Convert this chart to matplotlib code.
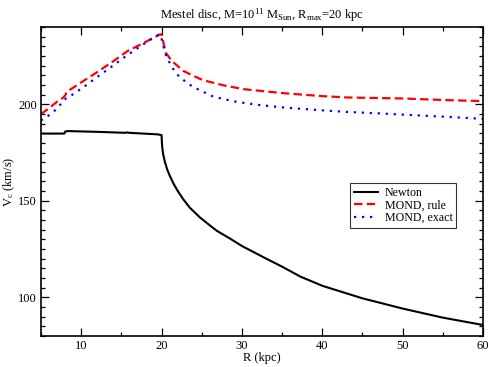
import matplotlib
matplotlib.use('Agg')
import matplotlib.pyplot as plt
from matplotlib.ticker import MultipleLocator

plt.rcParams['font.family'] = ['Liberation Serif', 'DejaVu Serif']
plt.rcParams['mathtext.fontset'] = 'custom'
plt.rcParams['mathtext.rm'] = 'Liberation Serif'
plt.rcParams['mathtext.it'] = 'Liberation Serif'

# Newtonian rotation curve of the truncated Mestel disc
r_newton = [5, 7.9, 8.0, 8.3, 12, 15.5, 15.7, 16, 19.5, 19.9, 20.0, 20.05, 20.1,
            20.2, 20.4, 20.7, 21.0, 21.5, 22, 22.7, 23.5, 24.8, 26, 26.9, 28.5,
            30, 33, 35, 37.3, 40, 45, 50, 55, 60]
v_newton = [184.8, 184.8, 185.8, 186.1, 185.7, 185.2, 185.4, 185.2, 184.4, 184.1,
            184.0, 180, 177.3, 174.2, 170.4, 166.3, 163.2, 158.8, 155.2, 150.8, 146.5,
            141.3, 137.3, 134.4, 130.5, 126.6, 120.1, 115.9, 110.7, 106, 99.5, 94.2,
            89.5, 85.7]

# MOND, interpolation rule
r_rule = [5, 6, 7, 7.7, 8.0, 8.2, 8.8, 10, 12.1, 14, 15.8, 17.9, 19.7, 20.0, 20.1,
          20.5, 21, 21.5, 22.7, 24, 25.2, 27.7, 30.2, 35.2, 40, 43.1, 49.8, 55, 60]
v_rule = [194.8, 198, 201.3, 203.2, 204.5, 206.5, 208, 211.3, 216.9, 222.3, 227.6,
          232, 235.9, 236.3, 234.5, 226.8, 224, 221.6, 217.3, 214.6, 212.4, 209.8,
          207.8, 205.7, 204.2, 203.5, 203, 202.2, 201.6]

# MOND, exact solution
r_exact = [5, 5.2, 6, 6.8, 8.1, 9, 10.6, 12.2, 13.8, 15.4, 17, 18.7, 19.6, 19.9,
           20.1, 20.5, 21.1, 21.6, 22.3, 23.9, 26.5, 29.4, 32.3, 35.2, 39.4, 43.1,
           47.3, 52, 57.2, 60]
v_exact = [191.5, 192.2, 194.3, 197, 203, 205.2, 209.8, 214.7, 219.5, 224.4, 229,
           233.7, 235.9, 236, 232, 226, 220.7, 217.2, 213.8, 209, 203.8, 201.2, 199.5,
           198.3, 197, 196, 195.2, 194.2, 193.1, 192.4]

fig = plt.figure(figsize=(4.91, 3.67), dpi=100)
ax = fig.add_axes([0.0835, 0.0845, 0.9002, 0.842])

ax.plot(r_newton, v_newton, color='black', lw=1.5, label='Newton')
ax.plot(r_rule, v_rule, color='red', lw=1.6, dashes=(3.8, 1.9), label='MOND, rule')
ax.plot(r_exact, v_exact, color='blue', lw=1.6, dashes=(1, 2.6), label='MOND, exact')

ax.set_xlim(5, 60)
ax.set_ylim(80, 240)
ax.xaxis.set_major_locator(MultipleLocator(10))
ax.xaxis.set_minor_locator(MultipleLocator(5))
ax.yaxis.set_major_locator(MultipleLocator(50))
ax.yaxis.set_minor_locator(MultipleLocator(5))
ax.tick_params(which='both', direction='in', top=True, right=True, labelsize=9)
ax.tick_params(which='major', length=6, width=0.9, pad=3)
ax.tick_params(which='minor', length=3, width=0.9)
for s in ax.spines.values():
    s.set_linewidth(1.2)

ax.set_xlabel('R (kpc)', fontsize=9, labelpad=0)
ax.set_ylabel(r'V$_\mathrm{c}$ (km/s)', fontsize=9, labelpad=1)
ax.set_title(r'Mestel disc, M=10$^{11}$ M$_\mathrm{Sun}$, R$_\mathrm{max}$=20 kpc',
             fontsize=9, pad=6)

leg = ax.legend(loc='upper left', bbox_to_anchor=(0.70, 0.494), borderaxespad=0,
                fontsize=8.6, frameon=True, fancybox=False, handlelength=2.0,
                labelspacing=0.05, borderpad=0.3, handletextpad=0.6)
leg.get_frame().set_edgecolor('black')
leg.get_frame().set_linewidth(0.8)

fig.savefig('out.png', dpi=100)
